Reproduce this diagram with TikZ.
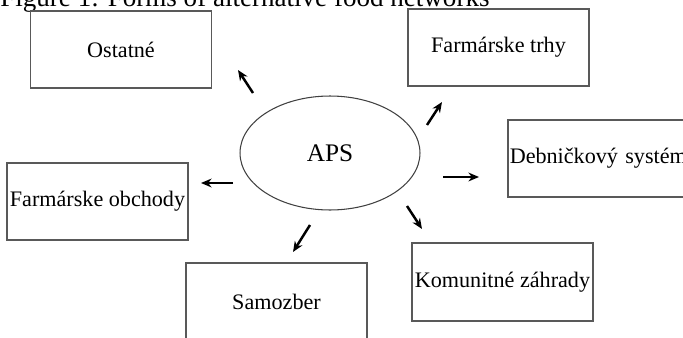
\documentclass[tikz,border=0pt]{standalone}
\usepackage{fontspec}
\setmainfont{Liberation Serif}
\usetikzlibrary{arrows.meta,shapes.geometric}

\begin{document}
\begin{tikzpicture}[x=0.02cm,y=-0.02cm,
    form/.style={draw=black!65, line width=0.6pt, minimum width=3.62cm, minimum height=1.54cm, inner sep=0pt, font=\fontsize{12.6}{14}\selectfont},
    pointer/.style={-{Stealth[length=6pt,width=5pt]}, line width=1.4pt, black}
]
\useasboundingbox (0,0) rectangle (683,338);

% Caption (cut off at the top)
\node[anchor=base west, inner sep=0pt, font=\fontsize{15.4}{18}\selectfont] (cap) at (0,7) {Figure 1: Forms of alternative food networks};

% Centre
\node[draw=black!75, line width=0.6pt, ellipse, minimum width=3.6cm, minimum height=2.28cm, inner sep=0pt, font=\fontsize{14.4}{16}\selectfont] (APS) at (330,153) {APS};

% Forms
\node[form] (OST) at (121,49.5) {Ostatné};
\node[form] (FT) at (498.5,47.5) {Farmárske trhy};
\node[form, text width=3.62cm, align=left] (DS) at (598.5,158.5) {\hspace{1pt}Debničkový systém};
\node[form] (FO) at (97.5,201.5) {Farmárske obchody};
\node[form] (SAM) at (276.5,301.5) {Samozber};
\node[form, minimum height=1.56cm] (KZ) at (502.5,282) {Komunitné záhrady};

% Arrow ends
\coordinate (t1) at (253,93);  \coordinate (h1) at (238,70);
\coordinate (t2) at (427,125); \coordinate (h2) at (442,102);
\coordinate (t3) at (443,177); \coordinate (h3) at (479,177);
\coordinate (t4) at (407,206); \coordinate (h4) at (422,229);
\coordinate (t5) at (310,225); \coordinate (h5) at (293,252);
\coordinate (t6) at (233,183); \coordinate (h6) at (201,183);

\draw[pointer] (t1) -- (h1);
\draw[pointer] (t2) -- (h2);
\draw[pointer] (t3) -- (h3);
\draw[pointer] (t4) -- (h4);
\draw[pointer] (t5) -- (h5);
\draw[pointer] (t6) -- (h6);
\end{tikzpicture}
\end{document}
